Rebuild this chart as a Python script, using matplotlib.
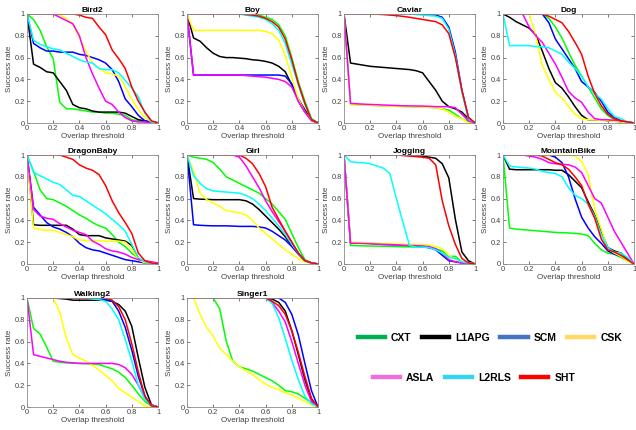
import numpy as np
import matplotlib
matplotlib.use('Agg')
import matplotlib.pyplot as plt
from matplotlib.lines import Line2D

plt.rcParams['font.family'] = ['Liberation Sans', 'DejaVu Sans']

# overlap thresholds used by every curve
thresholds = np.linspace(0, 1, 21)

trackers = ['CXT', 'L1APG', 'SCM', 'CSK', 'ASLA', 'L2RLS', 'SHT']
plot_colors = ['#00FF00', '#000000', '#0000FF', '#FFFF00', '#FF00FF', '#00FFFF', '#FF0000']
legend_colors = ['#00B050', '#000000', '#4472C4', '#FFD966', '#F06EDC', '#33D6EE', '#FF0000']

# success rates, one list per tracker in the order of `trackers`
bird2 = [
    [1, .95, .85, .70, .59, .19, .13, .13, .12, .11, .10, .10, .09, .09, .08, .07, .03, .02, .01, .01, .005],
    [1, .54, .51, .47, .46, .38, .30, .17, .14, .13, .11, .10, .10, .10, .10, .09, .06, .03, .02, .01, 0],
    [1, .73, .69, .66, .66, .65, .65, .65, .63, .62, .60, .58, .55, .49, .38, .22, .15, .07, .02, .01, 0],
    [1, 1, 1, 1, 1, .99, .96, .90, .78, .66, .55, .50, .46, .45, .43, .33, .22, .12, .05, .01, 0],
    [1, 1, 1, 1, 1, .97, .94, .91, .80, .60, .45, .32, .20, .17, .10, .05, .02, .01, .01, 0, 0],
    [1, .76, .72, .70, .68, .67, .64, .61, .58, .56, .55, .50, .49, .49, .46, .39, .32, .24, .09, .01, 0],
    [1, 1, 1, 1, 1, 1, 1, 1, .99, .97, .96, .88, .81, .67, .59, .50, .33, .20, .10, .02, 0],
]
boy = [
    [1, 1, 1, 1, 1, 1, 1, 1, 1, 1, .995, .99, .97, .95, .90, .80, .60, .38, .20, .04, 0],
    [1, .78, .75, .69, .64, .61, .60, .60, .595, .59, .58, .575, .565, .55, .52, .47, .35, .22, .12, .03, 0],
    [1, .44, .44, .44, .44, .44, .44, .44, .44, .44, .44, .44, .44, .44, .44, .43, .36, .20, .10, .03, 0],
    [1, .85, .85, .85, .85, .85, .85, .85, .85, .85, .85, .85, .84, .82, .76, .62, .42, .22, .10, .02, 0],
    [1, .44, .44, .44, .44, .44, .44, .44, .44, .435, .43, .425, .42, .41, .40, .38, .33, .20, .10, .02, 0],
    [1, 1, 1, 1, 1, 1, 1, 1, 1, .99, .98, .97, .95, .91, .85, .73, .54, .35, .17, .03, 0],
    [1, 1, 1, 1, 1, 1, 1, 1, 1, .995, .99, .98, .96, .93, .88, .77, .58, .36, .18, .03, 0],
]
caviar = [
    [1, .17, .168, .165, .163, .16, .158, .156, .154, .152, .15, .148, .145, .143, .14, .13, .12, .08, .04, .01, 0],
    [1, .55, .54, .53, .52, .515, .51, .505, .50, .495, .49, .48, .46, .38, .30, .20, .15, .13, .10, .04, 0],
    [1, 1, 1, 1, 1, 1, 1, 1, 1, 1, 1, 1, 1, .995, .99, .97, .88, .65, .30, .05, 0],
    [1, .17, .168, .165, .162, .16, .158, .155, .153, .15, .15, .148, .146, .144, .14, .13, .10, .06, .04, 0, 0],
    [1, .18, .176, .173, .17, .168, .165, .163, .16, .158, .157, .156, .155, .153, .15, .15, .15, .14, .08, .02, 0],
    [1, 1, 1, 1, 1, 1, 1, 1, 1, 1, 1, .995, .99, .985, .98, .96, .86, .62, .28, .04, 0],
    [1, 1, 1, 1, 1, .998, .995, .99, .985, .978, .97, .96, .95, .94, .93, .90, .82, .60, .30, .05, 0],
]
dog = [
    [1, 1, 1, 1, 1, 1, 1, .96, .88, .78, .65, .53, .43, .33, .23, .13, .07, .03, .02, .01, 0],
    [1, .97, .93, .90, .87, .81, .66, .50, .37, .32, .24, .15, .07, .03, .03, .03, .02, .02, .01, 0, 0],
    [1, 1, 1, 1, 1, 1, 1, .92, .77, .68, .59, .50, .38, .33, .28, .20, .10, .05, .02, .01, 0],
    [1, 1, 1, 1, 1, .80, .53, .40, .28, .23, .15, .08, .04, .03, .03, .025, .02, .015, .01, 0, 0],
    [1, 1, 1, 1, .88, .80, .74, .64, .54, .42, .29, .23, .19, .10, .04, .03, .03, .025, .02, .01, 0],
    [1, .71, .71, .71, .71, .70, .70, .69, .66, .63, .56, .50, .43, .33, .27, .22, .13, .06, .04, .01, 0],
    [1, 1, 1, 1, 1, 1, 1, .98, .95, .92, .84, .74, .63, .43, .27, .16, .08, .04, .02, .01, 0],
]
dragonbaby = [
    [1, .85, .68, .60, .59, .56, .53, .49, .45, .42, .38, .35, .33, .27, .20, .16, .10, .05, .02, .01, 0],
    [1, .36, .355, .355, .355, .355, .355, .32, .27, .26, .26, .26, .24, .23, .22, .21, .17, .05, .01, .01, 0],
    [1, .52, .45, .38, .34, .32, .29, .25, .19, .15, .13, .12, .10, .08, .06, .04, .03, .02, .01, .005, 0],
    [1, .33, .315, .31, .31, .29, .27, .25, .22, .215, .215, .215, .21, .21, .21, .20, .14, .04, .01, .01, 0],
    [1, .50, .44, .42, .41, .37, .34, .31, .29, .27, .21, .18, .14, .12, .11, .09, .06, .04, .03, .02, .01],
    [1, .84, .81, .78, .75, .73, .68, .63, .62, .58, .54, .50, .46, .41, .36, .30, .18, .06, .02, .01, 0],
    [1, 1, 1, 1, 1, 1, .98, .96, .91, .88, .86, .82, .72, .58, .47, .38, .28, .10, .03, .01, 0],
]
girl = [
    [1, .98, .97, .96, .93, .87, .80, .77, .74, .71, .68, .65, .60, .55, .48, .41, .28, .15, .04, .01, 0],
    [1, .60, .595, .593, .59, .59, .59, .59, .59, .58, .55, .50, .44, .38, .32, .25, .17, .10, .03, .01, 0],
    [1, .36, .355, .352, .35, .35, .35, .348, .345, .345, .345, .34, .33, .30, .26, .22, .16, .09, .03, .01, 0],
    [1, .85, .65, .59, .56, .53, .49, .48, .47, .45, .40, .33, .28, .23, .18, .13, .09, .05, .02, .01, 0],
    [1, 1, 1, 1, 1, 1, 1, 1, .98, .90, .80, .70, .58, .48, .39, .30, .20, .10, .03, .01, 0],
    [1, .81, .74, .69, .67, .665, .66, .655, .65, .63, .60, .55, .49, .42, .35, .27, .18, .10, .03, .01, 0],
    [1, 1, 1, 1, 1, 1, 1, 1, 1, .97, .92, .83, .71, .52, .41, .30, .20, .10, .03, .01, 0],
]
jogging = [
    [1, .17, .168, .166, .165, .164, .163, .162, .16, .158, .157, .156, .155, .15, .14, .12, .07, .07, .02, .01, 0],
    [1, 1, 1, 1, 1, 1, 1, 1, 1, 1, 1, .995, .99, .98, .97, .92, .79, .41, .11, .03, 0],
    [1, .19, .19, .195, .19, .185, .18, .178, .176, .174, .17, .165, .16, .15, .13, .08, .03, .02, .01, .01, 0],
    [1, .20, .198, .195, .193, .19, .188, .186, .184, .182, .18, .18, .18, .175, .16, .14, .08, .04, .02, .01, 0],
    [1, .19, .19, .188, .185, .183, .18, .178, .175, .172, .17, .168, .165, .16, .14, .10, .04, .02, .01, .01, 0],
    [1, .94, .93, .93, .92, .90, .88, .83, .60, .38, .17, .155, .155, .15, .13, .10, .06, .05, .02, .01, 0],
    [1, 1, 1, 1, 1, 1, 1, 1, 1, .995, .99, .985, .98, .97, .91, .58, .35, .18, .05, .01, 0],
]
mountainbike = [
    [1, .33, .32, .315, .31, .305, .30, .295, .29, .287, .285, .28, .275, .26, .19, .13, .10, .09, .06, .03, 0],
    [1, .87, .865, .865, .865, .865, .865, .865, .86, .86, .82, .76, .70, .57, .45, .30, .15, .12, .10, .05, 0],
    [1, 1, 1, 1, 1, 1, 1, 1, .98, .93, .80, .60, .43, .33, .25, .19, .12, .09, .07, .04, 0],
    [1, 1, 1, 1, 1, 1, 1, 1, 1, 1, 1, .99, .94, .82, .50, .32, .14, .10, .07, .03, 0],
    [1, 1, 1, 1, .99, .98, .96, .93, .92, .915, .91, .89, .84, .72, .60, .56, .43, .30, .20, .10, 0],
    [1, .90, .89, .885, .88, .87, .85, .84, .83, .80, .70, .63, .60, .55, .44, .27, .15, .11, .10, .06, 0],
    [1, 1, 1, 1, 1, 1, .99, .96, .93, .91, .87, .80, .72, .55, .42, .23, .13, .11, .08, .04, 0],
]
walking2 = [
    [1, .72, .67, .55, .42, .41, .405, .403, .40, .397, .395, .39, .37, .35, .32, .27, .20, .12, .05, .01, 0],
    [1, 1, 1, 1, 1, .995, .99, .98, .98, .98, .98, .98, .98, .97, .94, .88, .74, .45, .18, .02, 0],
    [1, 1, 1, 1, 1, 1, 1, 1, 1, 1, .995, .99, .985, .97, .88, .73, .52, .28, .10, .01, 0],
    [1, 1, 1, 1, 1, .87, .63, .48, .45, .42, .38, .34, .29, .24, .17, .13, .09, .05, .01, 0, 0],
    [1, .48, .465, .45, .435, .42, .41, .405, .40, .40, .40, .40, .40, .40, .39, .36, .30, .20, .08, .02, 0],
    [1, 1, 1, 1, 1, 1, 1, 1, 1, 1, .99, .985, .97, .90, .80, .62, .42, .20, .07, .01, 0],
    [1, 1, 1, 1, 1, 1, 1, 1, 1, 1, 1, 1, 1, .98, .92, .80, .58, .32, .10, .01, 0],
]
singer1 = [
    [1, 1, 1, 1, 1, .90, .60, .42, .37, .35, .33, .30, .27, .24, .20, .15, .14, .12, .08, .04, 0],
    [1, 1, 1, 1, 1, 1, 1, 1, 1, 1, 1, 1, 1, .99, .96, .88, .70, .48, .25, .07, 0],
    [1, 1, 1, 1, 1, 1, 1, 1, 1, 1, 1, 1, 1, 1, 1, .96, .85, .66, .40, .15, 0],
    [1, 1, .85, .73, .65, .54, .48, .42, .37, .33, .30, .25, .21, .18, .16, .13, .11, .08, .05, .02, 0],
    [1, 1, 1, 1, 1, 1, 1, 1, 1, 1, 1, 1, 1, .96, .88, .78, .60, .40, .20, .05, 0],
    [1, 1, 1, 1, 1, 1, 1, 1, 1, 1, 1, 1, 1, .95, .82, .63, .43, .25, .10, .03, 0],
    [1, 1, 1, 1, 1, 1, 1, 1, 1, 1, 1, 1, 1, .97, .93, .85, .70, .50, .28, .08, 0],
]

sequences = ['Bird2', 'Boy', 'Caviar', 'Dog', 'DragonBaby', 'Girl', 'Jogging',
             'MountainBike', 'Walking2', 'Singer1']
seq_data = [bird2, boy, caviar, dog, dragonbaby, girl, jogging, mountainbike,
            walking2, singer1]

W, H = 636, 430
fig = plt.figure(figsize=(W / 100, H / 100), dpi=100)

col_left = [27, 187, 344, 503]
row_top = [14, 155, 298]
ax_w, ax_h = 131, 109


def add_panel(i, name, data):
    r, c = divmod(i, 4)
    left = col_left[c] / W
    bottom = (H - row_top[r] - ax_h) / H
    ax = fig.add_axes([left, bottom, ax_w / W, ax_h / H])
    for vals, color in zip(data, plot_colors):
        ax.plot(thresholds, vals, color=color, lw=1.1)
    ax.set_xlim(0, 1)
    ax.set_ylim(0, 1)
    ax.set_xticks([0, .2, .4, .6, .8, 1])
    ax.set_yticks([0, .2, .4, .6, .8, 1])
    ax.set_xticklabels(['0', '0.2', '0.4', '0.6', '0.8', '1'])
    ax.set_yticklabels(['0', '0.2', '0.4', '0.6', '0.8', '1'])
    ax.tick_params(direction='in', length=2, width=0.5, labelsize=5.3,
                   colors='#404040', pad=1.5, top=True, right=True)
    for s in ax.spines.values():
        s.set_color('#8c8c8c')
        s.set_linewidth(0.6)
    ax.set_title(name, fontsize=6, fontweight='bold', pad=1.5)
    ax.set_xlabel('Overlap threshold', fontsize=5.8, labelpad=1, color='#404040')
    ax.set_ylabel('Success rate', fontsize=5.8, labelpad=1, color='#404040')
    return ax


for i, (name, data) in enumerate(zip(sequences, seq_data)):
    add_panel(i, name, data)

# legend in two rows, drawn with the excel-like colours
handles = [Line2D([], [], color=c, lw=3.2) for c in legend_colors]
fig.legend(handles[:4], trackers[:4], ncol=4, loc='center',
           bbox_to_anchor=(490 / W, 1 - 338 / H), frameon=False,
           prop={'size': 7.5, 'weight': 'bold'}, handlelength=2.6,
           handletextpad=0.6, columnspacing=1.0)
fig.legend(handles[4:], trackers[4:], ncol=3, loc='center',
           bbox_to_anchor=(474 / W, 1 - 378 / H), frameon=False,
           prop={'size': 7.5, 'weight': 'bold'}, handlelength=2.6,
           handletextpad=0.6, columnspacing=1.0)

fig.savefig('out.png', dpi=100)
